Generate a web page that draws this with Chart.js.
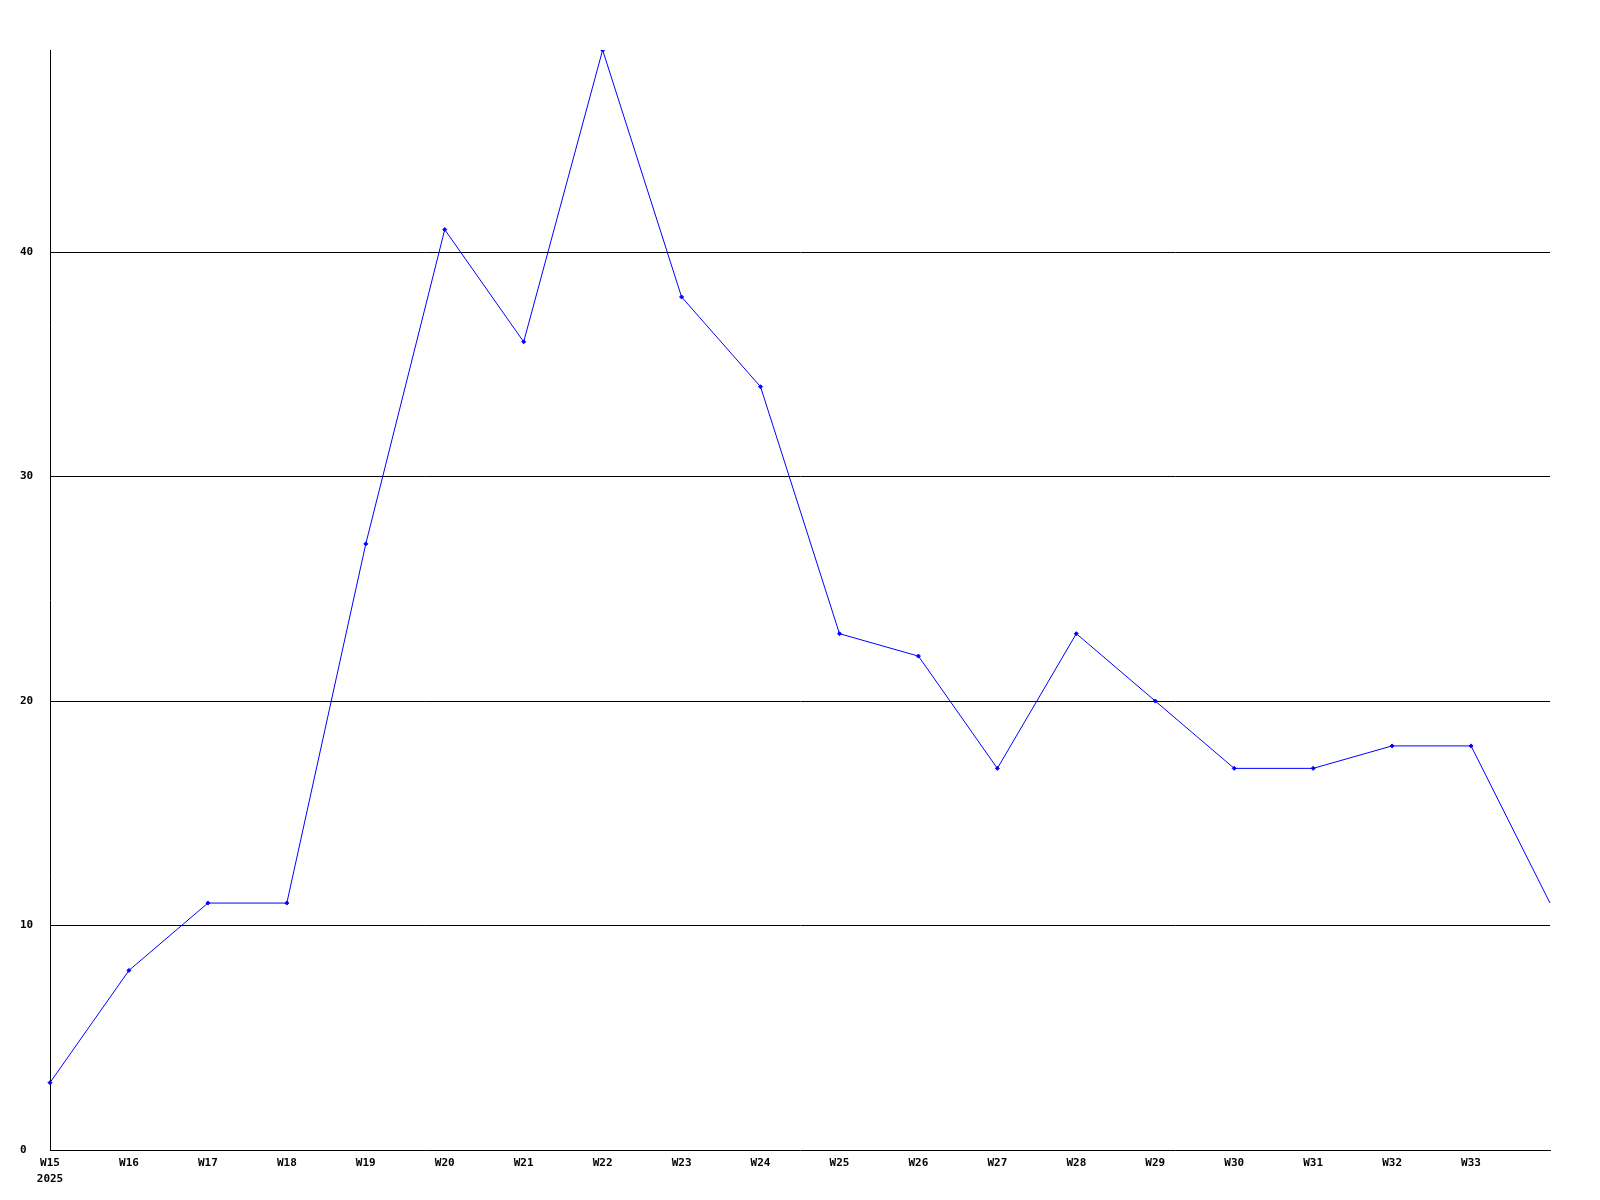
<!DOCTYPE html>
<html>
<head>
<meta charset="utf-8">
<script src="https://cdn.jsdelivr.net/npm/chart.js@4/dist/chart.umd.min.js"></script>
<style>
  html, body { margin: 0; padding: 0; background: #fff; }
  #chart { display: block; }
</style>
</head>
<body>
<canvas id="chart" width="1600" height="1200"></canvas>
<script>
// Données
const weeks = ['W15', 'W16', 'W17', 'W18', 'W19', 'W20', 'W21', 'W22', 'W23', 'W24',
               'W25', 'W26', 'W27', 'W28', 'W29', 'W30', 'W31', 'W32', 'W33', 'W34'];
const year = '2025';
const counts = [3, 8, 11, 11, 27, 41, 36, 49, 38, 34, 23, 22, 17, 23, 20, 17, 17, 18, 18, 11];
const yMax = 49;
const yStep = 10;

const font = { family: "'DejaVu Sans Mono', monospace", size: 11, weight: 'bold', lineHeight: 16 / 11 };
const lastIndex = weeks.length - 1;

new Chart(document.getElementById('chart'), {
    type: 'line',
    data: {
        labels: weeks,
        datasets: [{
            data: counts,
            borderColor: '#0000ff',
            backgroundColor: '#0000ff',
            borderWidth: 1,
            tension: 0,
            pointStyle: 'rectRot',
            pointRadius: ctx => ctx.dataIndex === lastIndex ? 0 : 2,
            pointBorderWidth: 1
        }]
    },
    options: {
        responsive: false,
        animation: false,
        layout: { padding: { left: 20, right: 50, top: 50, bottom: 0 } },
        plugins: { legend: { display: false }, tooltip: { enabled: false } },
        scales: {
            x: {
                offset: false,
                grid: { display: false, drawTicks: false },
                border: { color: '#000', width: 1 },
                ticks: {
                    color: '#000',
                    font: font,
                    padding: 5,
                    autoSkip: false,
                    maxRotation: 0,
                    callback: (v, i) => i === 0 ? [weeks[0], year] : (i === lastIndex ? '' : weeks[i])
                },
                afterFit: s => { s.height = 50; }
            },
            y: {
                min: 0,
                max: yMax,
                grid: {
                    color: ctx => ctx.tick && ctx.tick.value === 0 ? 'rgba(0,0,0,0)' : '#000',
                    lineWidth: 1,
                    drawTicks: false
                },
                border: { color: '#000', width: 1 },
                ticks: {
                    stepSize: yStep,
                    includeBounds: false,
                    color: '#000',
                    font: font,
                    crossAlign: 'far',
                    padding: 0
                },
                afterFit: s => { s.width = 30; }
            }
        }
    }
});
</script>
</body>
</html>
